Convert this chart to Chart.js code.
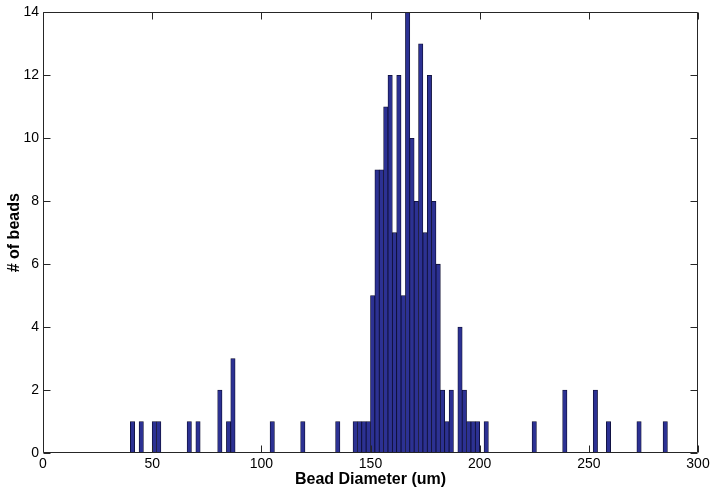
<!DOCTYPE html>
<html><head><meta charset="utf-8">
<script src="https://cdn.jsdelivr.net/npm/chart.js@4/dist/chart.umd.min.js"></script>
<style>html,body{margin:0;padding:0;background:#fff}#wrap{width:714px;height:495px}</style>
</head><body><div id="wrap"><canvas id="c" width="714" height="495"></canvas></div>
<script>
// Histogram bins (bin centers, um) and counts
const binCenters = [41, 45, 51, 53, 67, 71, 81, 85, 87, 105, 119, 135,
  143, 145, 147, 149, 151, 153, 155, 157, 159, 161, 163, 165, 167, 169, 171, 173, 175, 177, 179, 181, 183, 185, 187,
  191, 193, 195, 197, 199, 203, 225, 239, 253, 259, 273, 285];
const beadCounts = [1, 1, 1, 1, 1, 1, 2, 1, 3, 1, 1, 1,
  1, 1, 1, 1, 5, 9, 9, 11, 12, 7, 12, 5, 14, 10, 8, 13, 7, 12, 8, 6, 2, 1, 2,
  4, 2, 1, 1, 1, 1, 1, 2, 2, 1, 1, 1];
const xTicks = [0, 50, 100, 150, 200, 250, 300];
const yTicks = [0, 2, 4, 6, 8, 10, 12, 14];
const xTitle = 'Bead Diameter (um)';
const yTitle = '# of beads';

const FONT = "'Liberation Sans', Arial, Helvetica, sans-serif";
const AXIS_COLOR = '#262626';
const TICK_LEN = 7;

const boxPlugin = {
  id: 'matlabBox',
  afterDatasetsDraw(chart) {
    const {ctx, chartArea: a, scales: {x, y}} = chart;
    const L = Math.round(a.left) + 0.5, R = Math.round(a.right) - 0.5;
    const T = Math.round(a.top) + 0.5, B = Math.round(a.bottom) - 0.5;
    ctx.save();
    ctx.strokeStyle = AXIS_COLOR;
    ctx.lineWidth = 1;
    ctx.beginPath();
    ctx.rect(L, T, R - L, B - T);
    x.ticks.forEach(t => {
      const px = Math.round(x.getPixelForValue(t.value)) + 0.5;
      ctx.moveTo(px, B); ctx.lineTo(px, B - TICK_LEN);
      ctx.moveTo(px, T); ctx.lineTo(px, T + TICK_LEN);
    });
    y.ticks.forEach(t => {
      const py = Math.round(y.getPixelForValue(t.value)) + 0.5;
      ctx.moveTo(L, py); ctx.lineTo(L + TICK_LEN, py);
      ctx.moveTo(R, py); ctx.lineTo(R - TICK_LEN, py);
    });
    ctx.stroke();
    ctx.restore();
  }
};

new Chart(document.getElementById('c'), {
  type: 'bar',
  data: {
    datasets: [{
      data: binCenters.map((c, i) => ({x: c, y: beadCounts[i]})),
      backgroundColor: '#2C3193',
      borderColor: '#0c0c30',
      borderWidth: 0.8,
      borderSkipped: false,
      barPercentage: 1,
      categoryPercentage: 1
    }]
  },
  options: {
    responsive: false,
    devicePixelRatio: 1,
    animation: false,
    layout: {padding: {left: 0, top: 11, right: 16, bottom: 0}},
    plugins: {legend: {display: false}, tooltip: {enabled: false}},
    scales: {
      x: {
        type: 'linear', min: 0, max: 300, offset: false,
        afterBuildTicks: s => { s.ticks = xTicks.map(v => ({value: v})); },
        afterFit: s => { s.height = 42; },
        grid: {display: false, drawTicks: false},
        border: {display: false},
        ticks: {color: '#000', font: {family: FONT, size: 14}, padding: 3, maxRotation: 0, autoSkip: false},
        title: {display: true, text: xTitle, color: '#000',
          font: {family: FONT, size: 16, weight: 'bold'}, padding: {top: 0, bottom: 5.5}}
      },
      y: {
        type: 'linear', min: 0, max: 14,
        afterBuildTicks: s => { s.ticks = yTicks.map(v => ({value: v})); },
        afterFit: s => { s.width = 43; },
        grid: {display: false, drawTicks: false},
        border: {display: false},
        ticks: {color: '#000', font: {family: FONT, size: 14}, padding: 4, autoSkip: false},
        title: {display: true, text: yTitle, color: '#000',
          font: {family: FONT, size: 16, weight: 'bold'}, padding: {top: 4.5, bottom: 0}}
      }
    }
  },
  plugins: [boxPlugin]
});
</script>
</body></html>
